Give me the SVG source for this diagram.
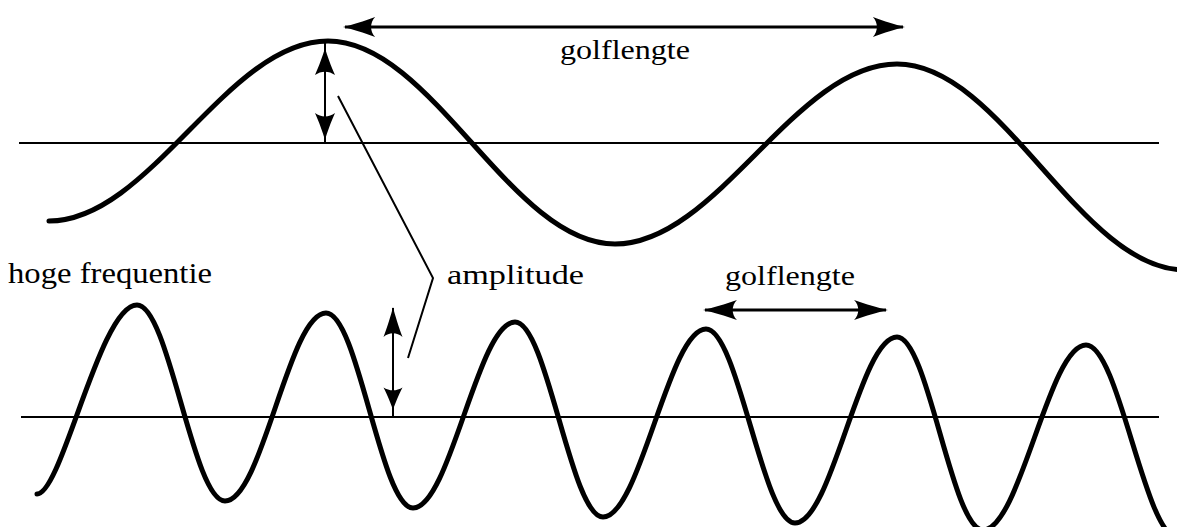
<svg xmlns="http://www.w3.org/2000/svg" xmlns:xlink="http://www.w3.org/1999/xlink" width="1177" height="527" viewBox="0 0 1177 527">
  <style>
    .wave { fill: none; stroke: #000; stroke-width: 5; stroke-linecap: round; stroke-linejoin: round; }
    .axis { fill: none; stroke: #000; stroke-width: 2; }
    .shaft { fill: none; stroke: #000; stroke-width: 3; }
    .thin { fill: none; stroke: #000; stroke-width: 2; }
    .lbl { font-family: "Liberation Serif", "Times New Roman", serif; fill: #000; }
    .head { fill: #000; }
  </style>
  <defs>
    <path id="ah" class="head" d="M0,0 C-8,-2 -20,-6 -30,-10 C-25,-4 -25,4 -30,10 C-20,6 -8,2 0,0 Z"/>
  </defs>
  <rect width="1177" height="527" fill="#fff"/>

  <g id="low-frequency-wave">
    <line class="axis" x1="19" y1="143" x2="1159" y2="143"/>
    <path class="wave" d="M49,221 C150,221 227,41 328,41 C432,41 511,244 615,244 C717,244 795,64 897,64 C1002,64 1080,270 1185,270"/>
  </g>

  <g id="high-frequency-wave">
    <line class="axis" x1="21" y1="417" x2="1159" y2="417"/>
    <path class="wave" d="M37,494 C62,494 100,305 137,305 C169,305 193,501 225,501 C262,501 289,313 326,313 C358,313 381,508 413,508 C450,508 478,322 515,322 C547,322 571,517 603,517 C640,517 669,329 706,329 C738,329 763,523 795,523 C832,523 860,337 897,337 C928,337 952,530 983,530 C1020,530 1049,345 1086,345 C1119,345 1145,538 1178,538"/>
  </g>

  <g id="labels">
    <text class="lbl" x="560" y="59" font-size="27" textLength="130" lengthAdjust="spacingAndGlyphs">golflengte</text>
    <text class="lbl" x="8" y="283" font-size="29" textLength="204" lengthAdjust="spacingAndGlyphs">hoge frequentie</text>
    <text class="lbl" x="447" y="284" font-size="28" textLength="137" lengthAdjust="spacingAndGlyphs">amplitude</text>
    <text class="lbl" x="725" y="285" font-size="27" textLength="130" lengthAdjust="spacingAndGlyphs">golflengte</text>
  </g>

  <g id="connectors">
    <!-- top wavelength arrow -->
    <line class="shaft" x1="345" y1="27" x2="903" y2="27"/>
    <use xlink:href="#ah" transform="translate(343,27) rotate(180) scale(1.07,1)"/>
    <use xlink:href="#ah" transform="translate(905,27) scale(1.07,1)"/>
    <!-- top amplitude arrow -->
    <line class="thin" x1="325" y1="42" x2="325" y2="143"/>
    <use xlink:href="#ah" transform="translate(325,48) rotate(-90) scale(0.9,1)"/>
    <use xlink:href="#ah" transform="translate(325,140) rotate(90) scale(0.9,1)"/>
    <!-- bottom amplitude arrow -->
    <line class="thin" x1="393" y1="308" x2="393" y2="418"/>
    <use xlink:href="#ah" transform="translate(393,307) rotate(-90) scale(1,0.95)"/>
    <use xlink:href="#ah" transform="translate(393,410) rotate(90) scale(0.75,0.95)"/>
    <!-- amplitude leader -->
    <polyline class="thin" points="338,96 433,278 408,358"/>
    <!-- bottom wavelength arrow -->
    <line class="shaft" x1="705" y1="310" x2="886" y2="310"/>
    <use xlink:href="#ah" transform="translate(703,310) rotate(180) scale(1.13,1)"/>
    <use xlink:href="#ah" transform="translate(888,310) scale(1.13,1)"/>
  </g>
</svg>
